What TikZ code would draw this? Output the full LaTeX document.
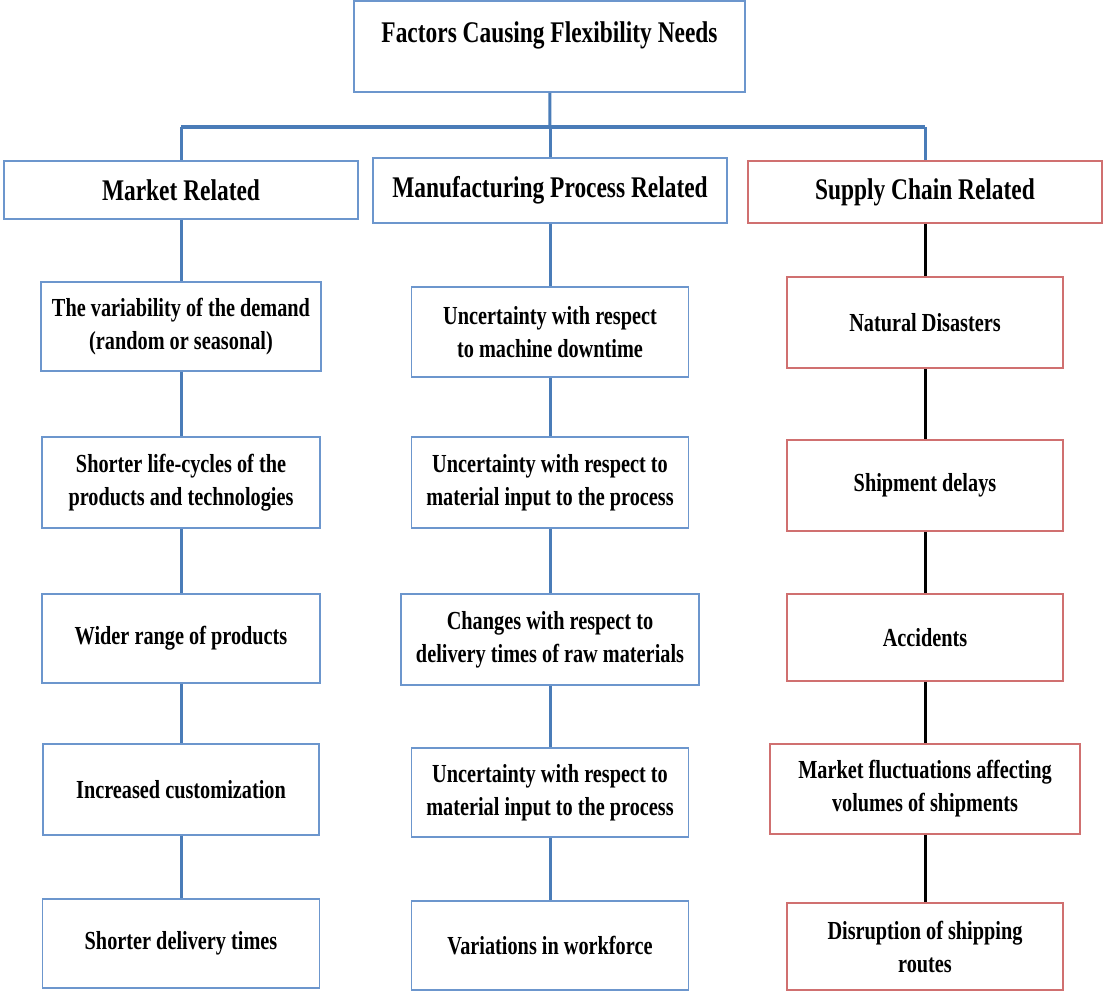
\documentclass[tikz,border=0pt]{standalone}
\usepackage{fontspec}
\setmainfont{Liberation Serif}[FakeStretch=0.78]
\usetikzlibrary{positioning,calc}
\definecolor{boxblue}{RGB}{108,150,205}
\definecolor{linkblue}{RGB}{74,124,184}
\definecolor{boxred}{RGB}{208,112,112}
\tikzstyle{head} = [draw=boxblue, line width=1.6pt, align=center, inner sep=2pt, font=\fontsize{30}{36}\selectfont\bfseries]
\tikzstyle{bluebox} = [draw=boxblue, line width=1.6pt, align=center, inner sep=2pt, minimum width=277, minimum height=90, font=\fontsize{26}{33}\selectfont\bfseries]
\tikzstyle{redbox} = [bluebox, draw=boxred]
\tikzstyle{bluelink} = [draw=linkblue, line width=3pt]
\tikzstyle{blacklink} = [draw=black, line width=3pt]

\begin{document}
\begin{tikzpicture}[x=1pt,y=-1pt]
\useasboundingbox (0,0) rectangle (1105,993);
% root and the three groups
\node (root) at (549.5,46.5) [head, minimum width=391, minimum height=91, text depth=29.5] {Factors Causing Flexibility Needs};
\node (mkt) at (181,190) [head, minimum width=354, minimum height=58] {Market Related};
\node (mfg) at (550,190.5) [head, minimum width=354, minimum height=65] {Manufacturing Process Related};
\node (sup) at (925,192) [head, draw=boxred, minimum width=354, minimum height=62] {Supply Chain Related};
\coordinate (jl) at (181,127);
\coordinate (jn) at (550,127);
\coordinate (jr) at (925,127);
% market related
\node (m1) at (181,326.5) [bluebox, minimum width=280, minimum height=89] {The variability of the demand\\(random or seasonal)};
\node (m2) at (181,482.5) [bluebox, minimum width=278, minimum height=91] {Shorter life-cycles of the\\products and technologies};
\node (m3) at (181,638.5) [bluebox, minimum width=278, minimum height=89] {Wider range of products};
\node (m4) at (181,789.5) [bluebox, minimum width=276, minimum height=91] {Increased customization};
\node (m5) at (181,943.5) [bluebox, minimum width=277, minimum height=89] {Shorter delivery times};
% manufacturing process related
\node (p1) at (550,332) [bluebox] {Uncertainty with respect\\to machine downtime};
\node (p2) at (550,482.5) [bluebox, minimum height=91] {Uncertainty with respect to\\material input to the process};
\node (p3) at (550,639.5) [bluebox, minimum width=298, minimum height=91] {Changes with respect to\\delivery times of raw materials};
\node (p4) at (550,792.5) [bluebox, minimum height=89] {Uncertainty with respect to\\material input to the process};
\node (p5) at (550,945.5) [bluebox, minimum height=89] {Variations in workforce};
% supply chain related
\node (s1) at (925,322.5) [redbox, minimum width=276, minimum height=91] {Natural Disasters};
\node (s2) at (925,485.5) [redbox, minimum width=276, minimum height=91] {Shipment delays};
\node (s3) at (925,637.5) [redbox, minimum width=276, minimum height=87] {Accidents};
\node (s4) at (925,789) [redbox, minimum width=310, minimum height=90] {Market fluctuations affecting\\volumes of shipments};
\node (s5) at (925,946.5) [redbox, minimum width=276, minimum height=87] {Disruption of shipping\\routes};
% connectors
\draw [bluelink] (root)--(jn);
\draw [bluelink, line width=3.5pt] (jl)--(jr);
\draw [bluelink] (jl)--(mkt);
\draw [bluelink] (jn)--(mfg);
\draw [bluelink] (jr)--(sup);
\draw [bluelink] (mkt)--(m1);
\draw [bluelink] (m1)--(m2);
\draw [bluelink] (m2)--(m3);
\draw [bluelink] (m3)--(m4);
\draw [bluelink] (m4)--(m5);
\draw [bluelink] (mfg)--(p1);
\draw [bluelink] (p1)--(p2);
\draw [bluelink] (p2)--(p3);
\draw [bluelink] (p3)--(p4);
\draw [bluelink] (p4)--(p5);
\draw [blacklink] (sup)--(s1);
\draw [blacklink] (s1)--(s2);
\draw [blacklink] (s2)--(s3);
\draw [blacklink] (s3)--(s4);
\draw [blacklink] (s4)--(s5);
\end{tikzpicture}
\end{document}
